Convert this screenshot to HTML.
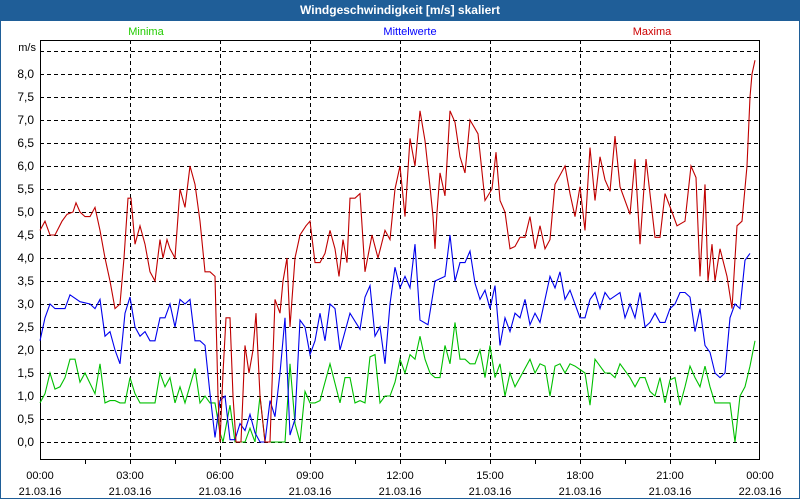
<!DOCTYPE html>
<html><head><meta charset="utf-8"><style>
html,body{margin:0;padding:0;background:#fff;}
#wrap{position:relative;width:800px;height:500px;overflow:hidden;background:#fff;font-family:"Liberation Sans","DejaVu Sans",sans-serif;}
#bar{position:absolute;left:0;top:0;width:800px;height:21px;background:#1f5e98;color:#fff;font-weight:bold;font-size:12px;line-height:21px;text-align:center;}
#frame{position:absolute;left:0;top:21px;width:798px;height:477px;border:1px solid #1f5e98;border-top:none;}
svg{position:absolute;left:0;top:0;}
</style></head><body>
<div id="wrap">
<div id="bar">Windgeschwindigkeit [m/s] skaliert</div>
<div id="frame"></div>
<svg id="chart" width="800" height="500"></svg>
</div>
<script>
// minutes since 00:00 on 21.03.16 and wind speed in m/s
const maxT=[0,10,20,30,44,54,66,72,80,90,100,110,120,130,140,150,160,168,176,182,190,200,210,220,230,240,246,254,260,270,280,290,300,310,320,330,340,350,356,360,366,372,380,386,392,402,410,418,426,432,440,450,460,470,480,486,494,500,510,520,532,540,550,560,570,580,590,598,606,614,620,630,640,650,664,676,690,700,710,720,730,740,750,760,770,780,786,790,794,800,810,820,830,840,850,860,876,890,904,912,920,930,940,950,960,970,980,990,1000,1010,1020,1030,1050,1060,1070,1080,1090,1100,1110,1120,1130,1140,1150,1160,1180,1190,1200,1212,1230,1240,1250,1264,1274,1290,1302,1312,1320,1330,1336,1344,1350,1360,1374,1384,1394,1404,1414,1420,1424,1430];
const maxV=[4.6,4.8,4.5,4.5,4.8,4.95,5.0,5.2,5.0,4.9,4.9,5.1,4.6,4.0,3.5,2.9,3.0,4.0,5.3,5.3,4.3,4.7,4.3,3.7,3.5,4.4,4.0,4.4,4.2,4.0,5.5,5.1,6.0,5.6,4.8,3.7,3.7,3.6,1.0,0.0,1.5,2.7,2.7,1.0,0.0,0.0,2.1,1.5,2.0,2.8,1.0,0.0,0.0,3.1,2.8,3.5,4.0,2.5,4.0,4.5,4.7,4.8,3.9,3.9,4.1,4.6,4.2,3.6,4.4,3.9,5.3,5.3,5.4,3.7,4.5,4.0,4.6,4.4,5.5,6.0,4.9,6.6,6.0,7.2,6.55,5.55,4.9,4.2,5.0,5.85,5.35,7.2,6.95,6.2,5.85,7.0,6.7,5.25,5.5,6.3,5.25,5.0,4.2,4.25,4.45,4.45,4.9,4.2,4.7,4.2,4.4,5.6,6.0,5.4,4.9,5.55,4.6,6.4,5.25,6.2,5.7,5.45,6.65,5.55,4.95,6.15,4.3,6.15,4.45,4.45,5.4,5.0,4.7,4.8,6.0,5.75,3.6,5.6,3.5,4.3,3.5,4.2,3.6,2.9,4.7,4.8,6.0,7.5,8.0,8.3];
const meanT=[0,10,20,30,50,60,80,100,110,120,130,140,150,160,170,180,190,200,210,220,230,240,250,260,270,280,290,300,310,320,330,340,350,360,370,380,390,400,410,420,430,440,450,460,470,480,490,500,510,520,530,540,550,560,570,580,590,600,620,640,650,660,670,680,690,700,710,720,730,740,750,760,776,790,810,820,830,840,850,860,870,880,890,900,910,920,930,940,950,960,970,980,990,1000,1020,1030,1040,1050,1060,1080,1090,1100,1110,1120,1130,1140,1160,1170,1180,1190,1200,1210,1220,1230,1240,1250,1260,1270,1280,1290,1300,1310,1320,1330,1340,1350,1360,1370,1380,1390,1400,1410,1420,1430];
const meanV=[2.2,2.7,3.0,2.9,2.9,3.2,3.05,3.0,2.9,3.1,2.3,2.4,2.0,1.7,2.8,3.15,2.5,2.3,2.4,2.2,2.2,2.7,2.7,3.0,2.5,3.1,3.0,3.1,2.2,2.2,2.1,1.05,0.1,0.9,1.0,0.05,0.05,0.4,0.25,0.6,0.2,0.0,0.0,0.9,0.55,1.5,2.7,0.15,0.5,2.65,2.5,1.9,2.2,2.8,2.2,3.0,2.9,2.0,2.8,2.45,3.15,3.4,2.3,2.5,1.7,3.0,3.8,3.35,3.6,3.35,4.3,2.65,2.55,3.5,3.6,4.5,3.5,3.9,3.9,4.15,3.45,3.1,3.3,2.9,3.4,2.1,2.7,2.4,2.8,2.7,3.1,2.55,2.8,2.6,3.6,3.35,3.7,3.1,3.3,2.7,2.7,3.1,3.25,2.9,3.25,3.1,3.25,2.7,3.0,2.7,3.25,2.5,2.6,2.8,2.6,2.6,2.9,3.0,3.25,3.25,3.15,2.4,2.9,2.1,1.95,1.5,1.4,1.5,2.7,3.0,2.9,3.95,4.1];
const minT=[0,10,20,30,40,50,60,70,80,90,110,120,130,140,150,160,170,180,190,200,230,240,250,260,270,280,290,310,320,330,340,350,360,366,380,390,410,420,430,440,450,490,500,510,520,530,540,550,560,580,600,610,620,630,640,650,660,670,680,690,700,710,720,730,740,750,760,770,780,790,800,810,820,830,840,850,860,870,880,890,900,910,920,930,940,950,960,980,990,1000,1010,1020,1030,1040,1050,1060,1070,1090,1100,1110,1120,1130,1140,1150,1160,1180,1190,1200,1210,1220,1230,1240,1250,1260,1270,1280,1290,1300,1310,1320,1330,1340,1350,1360,1380,1390,1400,1410,1420,1430];
const minV=[0.85,1.05,1.5,1.15,1.2,1.4,1.8,1.8,1.3,1.5,1.05,1.7,0.85,0.9,0.9,0.85,0.85,1.4,1.05,0.85,0.85,1.5,1.2,1.4,0.85,1.2,0.85,1.6,0.85,1.0,0.85,0.85,0.2,0.0,0.8,0.0,0.0,0.3,0.0,1.0,0.0,0.0,1.7,0.4,0.0,1.1,0.85,0.85,0.9,1.7,0.85,1.4,1.4,0.85,0.9,0.85,1.85,1.9,0.85,1.0,1.0,1.3,1.8,1.5,1.9,1.8,2.3,1.8,1.5,1.4,1.4,2.1,1.7,2.6,1.8,1.8,1.7,1.7,2.0,1.4,2.1,1.4,1.7,1.0,1.5,1.2,1.4,1.8,1.5,1.7,1.65,1.0,1.65,1.7,1.5,1.7,1.65,1.5,0.8,1.8,1.65,1.5,1.5,1.4,1.7,1.4,1.2,1.4,1.4,1.1,1.0,1.4,0.85,1.35,1.4,0.8,1.2,1.65,1.4,1.2,1.65,1.2,0.85,0.85,0.85,0.0,1.0,1.2,1.65,2.2];
const yTicks=[0,0.5,1,1.5,2,2.5,3,3.5,4,4.5,5,5.5,6,6.5,7,7.5,8];
const xTickHours=[0,3,6,9,12,15,18,21,24];
const xTickTimes=["00:00","03:00","06:00","09:00","12:00","15:00","18:00","21:00","00:00"];
const xTickDates=["21.03.16","21.03.16","21.03.16","21.03.16","21.03.16","21.03.16","21.03.16","21.03.16","22.03.16"];

const L=40,R=760,T=40,B=460;
const x=m=>L+m/1440*(R-L);
const y=v=>442-v*46;
const NS="http://www.w3.org/2000/svg";
const svg=document.getElementById('chart');
function mk(tag,attrs){const e=document.createElementNS(NS,tag);for(const k in attrs)e.setAttribute(k,attrs[k]);svg.appendChild(e);return e;}

// horizontal grid
for(let v=0;v<=8.5;v+=0.5){
  const g=mk('line',{x1:L,x2:R,y1:y(v)+0.5,y2:y(v)+0.5,stroke:'#000','stroke-width':1,'stroke-dasharray':'4,3'});
  
  
}
// vertical grid + ticks
for(let h=1.5;h<24;h+=1.5){
  const xx=Math.round(x(h*60))+0.5;
  if(h%3===0){
    const g=mk('line',{x1:xx,x2:xx,y1:T,y2:B,stroke:'#000','stroke-width':1,'stroke-dasharray':'4,3'});
    
    
  }
  const t=mk('line',{x1:xx,x2:xx,y1:B,y2:B+4,stroke:'#000','stroke-width':1});
  
  
}
// frame
const fr=mk('rect',{x:L+0.5,y:T+0.5,width:R-L-1,height:B-T-1,fill:'none',stroke:'#000','stroke-width':1});



// y labels
yTicks.forEach(v=>{
  const t=mk('text',{x:34,y:y(v)+4,'text-anchor':'end','font-size':12,fill:'#000','font-family':'Liberation Sans, sans-serif'});
  t.textContent=v.toFixed(1).replace('.',',');
  
  
});
const u=mk('text',{x:36,y:51,'text-anchor':'end','font-size':11,fill:'#000','font-family':'Liberation Sans, sans-serif'});
u.textContent='m/s';



// x labels
xTickHours.forEach((h,i)=>{
  const xx=x(h*60);
  const a=mk('text',{x:xx,y:479,'text-anchor':'middle','font-size':11,fill:'#000','font-family':'Liberation Sans, sans-serif'});
  a.textContent=xTickTimes[i];
  
  
  const b=mk('text',{x:xx,y:495,'text-anchor':'middle','font-size':11,fill:'#000','font-family':'Liberation Sans, sans-serif'});
  b.textContent=xTickDates[i];
  
  
});

// legend labels
[['Minima',146,'#22cc00','legend-minima'],['Mittelwerte',410,'#0000ff','legend-mittelwerte'],['Maxima',652,'#cc0000','legend-maxima']].forEach(d=>{
  const t=mk('text',{x:d[1],y:35,'text-anchor':'middle','font-size':11,fill:d[2],'font-family':'Liberation Sans, sans-serif'});
  t.textContent=d[0];
  
  
});

function series(T_,V_,col,name){
  const pts=T_.map((t,i)=>x(t).toFixed(1)+','+y(V_[i]).toFixed(1)).join(' ');
  const p=mk('polyline',{points:pts,fill:'none',stroke:col,'stroke-width':1.1});
  
  
}
series(minT,minV,'#00c000','minima-line');
series(meanT,meanV,'#0000ee','mittelwerte-line');
series(maxT,maxV,'#c00000','maxima-line');
</script>
</body></html>
